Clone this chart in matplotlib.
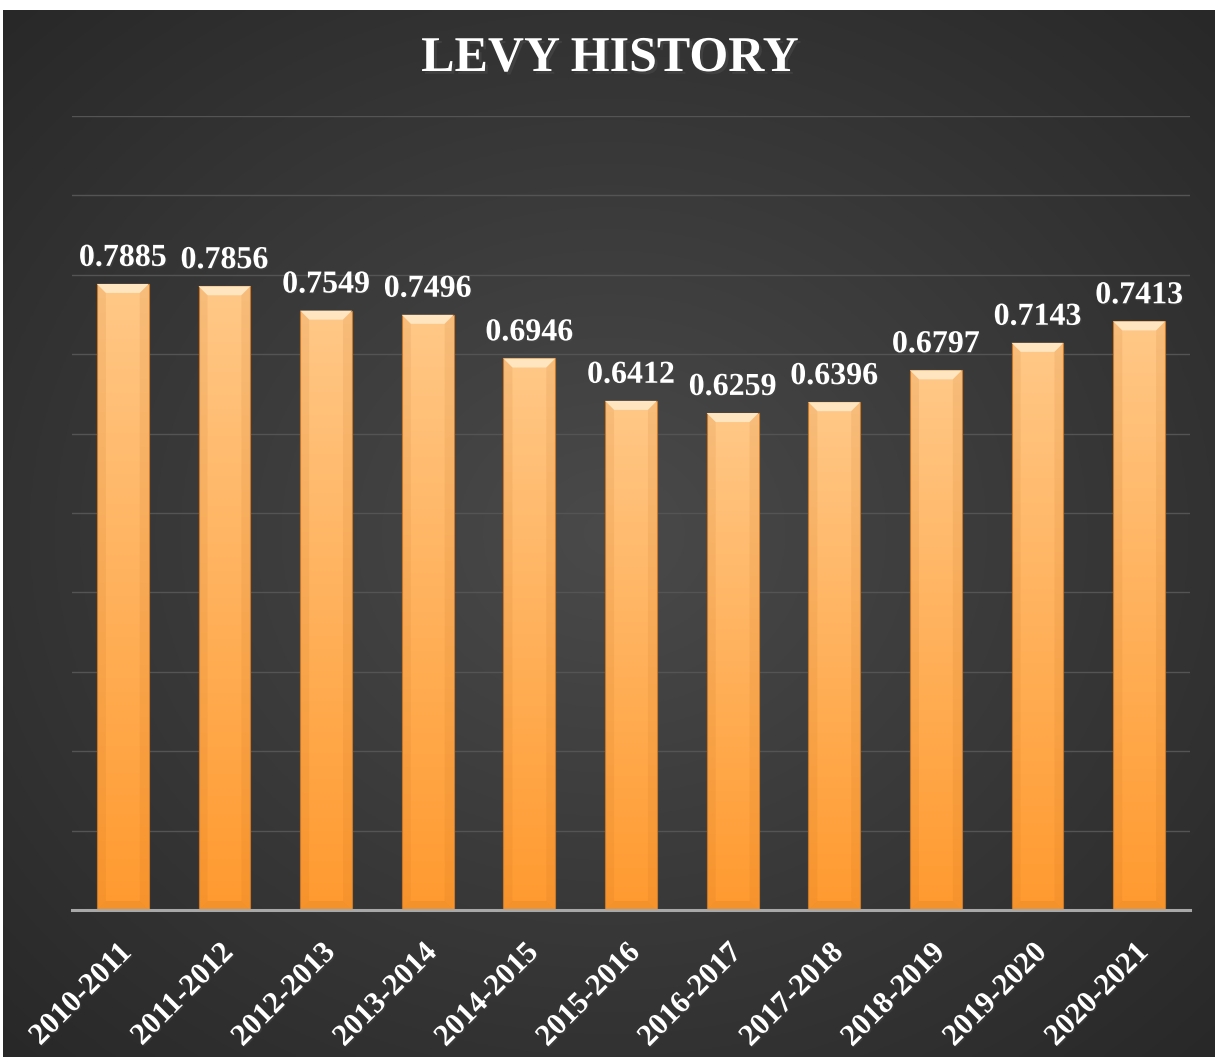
import numpy as np
import matplotlib
matplotlib.use("Agg")
import matplotlib.pyplot as plt
from matplotlib.patches import Polygon
import matplotlib.patheffects as pe
import matplotlib.transforms as mtransforms


categories = ["2010-2011", "2011-2012", "2012-2013", "2013-2014", "2014-2015",
              "2015-2016", "2016-2017", "2017-2018", "2018-2019", "2019-2020",
              "2020-2021"]
levy = [0.7885, 0.7856, 0.7549, 0.7496, 0.6946, 0.6412, 0.6259, 0.6396,
        0.6797, 0.7143, 0.7413]
title = "LEVY HISTORY"

W, H = 1215, 1057
serif = "Liberation Serif"


def hex_rgb(h):
  h = h.lstrip("#")
  return np.array([int(h[i:i + 2], 16) / 255 for i in (0, 2, 4)])


def vertical_gradient(top, bottom, n=256):
  t = np.linspace(0, 1, n)[:, None]
  img = hex_rgb(top)[None, :] * (1 - t) + hex_rgb(bottom)[None, :] * t
  return img[:, None, :]


fig = plt.figure(figsize=(W / 100, H / 100), dpi=100, facecolor="white")

# dark radial background
bg = fig.add_axes([3 / W, 0, 1 - 3 / W, 1 - 10 / H])
yy, xx = np.mgrid[0:1:400j, 0:1:400j]
r = np.sqrt(((xx - 0.5) / 0.75) ** 2 + ((yy - 0.5) / 0.75) ** 2)
r = np.clip(r, 0, 1)
inner, outer = hex_rgb("#4a4a4a"), hex_rgb("#262626")
img = inner[None, None, :] * (1 - r[..., None]) + outer[None, None, :] * r[..., None]
bg.imshow(img, extent=(0, 1, 0, 1), aspect="auto", origin="lower")
bg.set_axis_off()

ax = fig.add_axes([72 / W, (H - 910) / H, (1190 - 72) / W, (910 - 116) / H])
ax.patch.set_alpha(0)
x = np.arange(len(categories))
ax.set_xlim(-0.5, len(categories) - 0.5)
ax.set_ylim(0, 1.0)
ax.set_yticks(np.arange(0.1, 1.01, 0.1))
ax.yaxis.grid(True, color="#545454", lw=1.0)
ax.set_axisbelow(True)
ax.tick_params(axis="y", left=False, labelleft=False)
ax.tick_params(axis="x", bottom=False, pad=17)
for s in ["top", "right", "left"]:
  ax.spines[s].set_visible(False)
ax.spines["bottom"].set_color("#a8a8a8")
ax.spines["bottom"].set_linewidth(2.2)
ax.spines["bottom"].set_zorder(5)

bw = 0.51
bars = ax.bar(x, levy, width=bw, color="none", edgecolor="#c9792c", lw=0.8, zorder=3)

# bevel size in data units (about 9 px)
dx = 9 / ((1190 - 72) / len(categories))
dy = 9 / (910 - 116)

for b, v in zip(bars, levy):
  x0, x1 = b.get_x(), b.get_x() + b.get_width()
  im = ax.imshow(vertical_gradient("#ffc887", "#ff9a2f"), extent=(x0, x1, 0, v),
                 aspect="auto", zorder=2)
  im.set_clip_path(b)
  top = Polygon([(x0, v), (x1, v), (x1 - dx, v - dy), (x0 + dx, v - dy)],
                closed=True, facecolor="#ffe6c0", edgecolor="none", zorder=3)
  ax.add_patch(top)
  for pts in ([(x0, v), (x0 + dx, v - dy), (x0 + dx, dy), (x0, 0)],
              [(x1, v), (x1 - dx, v - dy), (x1 - dx, dy), (x1, 0)]):
    ax.add_patch(Polygon(pts, closed=True, facecolor="#b35f10", alpha=0.10,
                         edgecolor="none", zorder=3))
  ax.add_patch(Polygon([(x0, 0), (x1, 0), (x1 - dx, dy), (x0 + dx, dy)], closed=True,
                       facecolor="#b35f10", alpha=0.15, edgecolor="none", zorder=3))
  ax.text(b.get_x() + b.get_width() / 2, v + 0.014, f"{v:.4f}", ha="center",
          va="bottom", color="white", fontsize=23, fontweight="bold",
          family=serif, zorder=6,
          path_effects=[pe.withSimplePatchShadow(offset=(1, -1), alpha=0.4)])

ax.set_xticks(x)
ax.set_xticklabels(categories, rotation=45, ha="right", rotation_mode="anchor",
                   color="white", fontsize=22, fontweight="bold", family=serif)
shift = mtransforms.ScaledTranslation(-6 / 100, 0, fig.dpi_scale_trans)
for t in ax.get_xticklabels():
  t.set_transform(t.get_transform() + shift)
  t.set_path_effects([pe.withSimplePatchShadow(offset=(1, -1), alpha=0.4)])

fig.text(610 / W, 1 - 59 / H, title, ha="center", va="center", color="white",
         fontsize=36, fontweight="bold", family=serif,
         path_effects=[pe.withSimplePatchShadow(offset=(2, -2), alpha=0.5)])

fig.savefig("out.png", dpi=100, facecolor="white")
